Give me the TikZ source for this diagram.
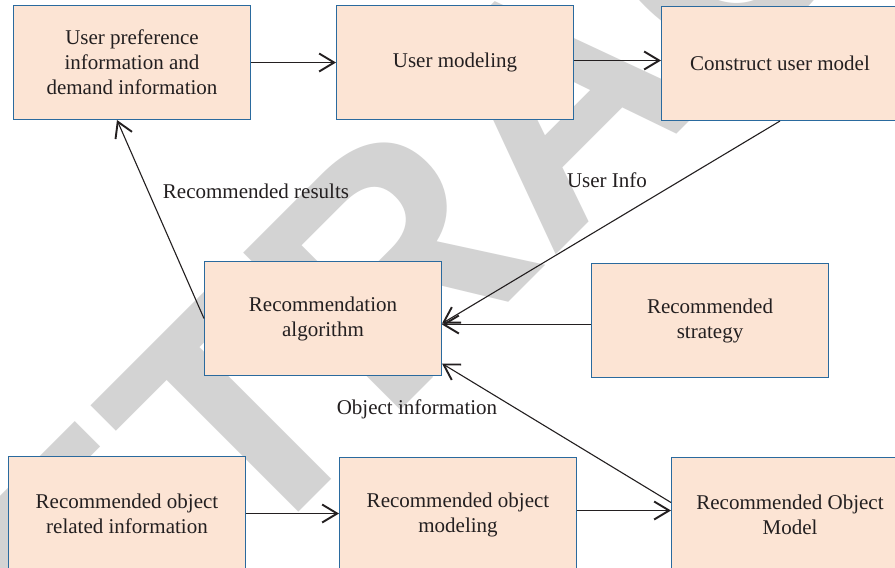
\documentclass[tikz,border=0pt]{standalone}
\usepackage{fontspec}
\setmainfont{Liberation Serif}
\newfontfamily\markfont{Liberation Sans}
\usetikzlibrary{arrows.meta}

\definecolor{boxfill}{HTML}{FCE4D4}
\definecolor{boxline}{HTML}{2A6A9E}
\definecolor{ink}{HTML}{231F20}
\definecolor{stamp}{HTML}{D3D3D3}

\begin{document}
\begin{tikzpicture}[x=1pt,y=-1pt,
  blk/.style={draw=boxline, line width=1pt, fill=boxfill,
    minimum width=237pt, minimum height=114pt, inner sep=0pt,
    align=center, text=ink, anchor=north west,
    font=\fontsize{21}{25}\selectfont},
  lbl/.style={text=ink, inner sep=0pt, font=\fontsize{21}{25}\selectfont},
  link/.style={draw=ink, line width=1.1pt,
    -{Straight Barb[length=15pt,width=18pt,line width=1.9pt]}}]

\useasboundingbox (0,0) rectangle (895,568);
\clip (0,0) rectangle (895,568);
\fill[white] (0,0) rectangle (895,568);

% diagonal stamp behind the chart
\node[rotate=45, anchor=base west, inner sep=0pt, text=stamp,
  font=\markfont\bfseries\fontsize{323}{323}\selectfont]
  (stampword) at (-71.5,882.5) {RETRACTED};

% boxes
\node[blk] (pref) at (13,5) {User preference\\information and\\demand information};
\node[blk] (umod) at (336,5) {User modeling};
\node[blk] (umodel) at (661,6) {Construct user model};
\node[blk] (algo) at (204,261) {Recommendation\\algorithm};
\node[blk] (strat) at (591,263) {Recommended\\strategy};
\node[blk] (oinfo) at (8,456) {Recommended object\\related information};
\node[blk] (omod) at (339,457) {Recommended object\\modeling};
\node[blk] (omodel) at (671,457) {Recommended Object\\Model};

% connectors
\draw[link] (pref.east) -- (pref.east -| umod.west);
\draw[link] ([yshift=2pt]umod.east) -- ([yshift=2pt]umod.east -| umodel.west);
\draw[link] (umodel.south) -- ([yshift=-5pt]algo.east);
\draw[link] ([yshift=-4pt]strat.west) -- ([yshift=-4pt]strat.west -| algo.east);
\draw[link] ([yshift=12pt]omodel.west) -- ([yshift=-45pt]algo.east);
\draw[link] (algo.west) -- ([xshift=-15pt]pref.south);
\draw[link] (oinfo.east) -- (oinfo.east -| omod.west);
\draw[link] ([yshift=4pt]omod.east) -- ([yshift=4pt]omod.east -| omodel.west);

% connector labels
\node[lbl] (resultslbl) at (256,191) {Recommended results};
\node[lbl] (userlbl) at (607,180) {User Info};
\node[lbl] (objlbl) at (417,409) {Object information};
\end{tikzpicture}
\end{document}
